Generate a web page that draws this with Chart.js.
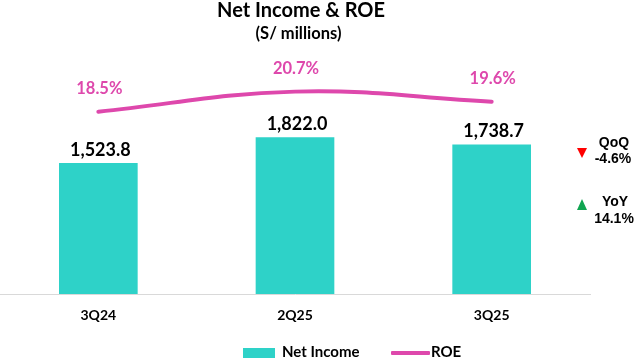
<!DOCTYPE html>
<html>
<head>
<meta charset="utf-8">
<script src="https://cdn.jsdelivr.net/npm/chart.js@4.4.1/dist/chart.umd.min.js"></script>
<style>
  html, body { margin: 0; padding: 0; background: #fff; }
  #wrap { position: relative; width: 635px; height: 358px; overflow: hidden; font-family: Lato, "Noto Sans", sans-serif; }
  #wrap canvas { position: absolute; left: 0; top: 0; }
  .t { position: absolute; white-space: nowrap; font-weight: bold; color: #000; }
  .ann { font-family: "Liberation Sans", Arial, sans-serif; font-size: 14px; line-height: 16px; text-align: center; width: 50px; }
  .tri-down { position: absolute; width: 0; height: 0; border-left: 5.5px solid transparent; border-right: 5.5px solid transparent; border-top: 10px solid #FF0000; }
  .tri-up { position: absolute; width: 0; height: 0; border-left: 5.5px solid transparent; border-right: 5.5px solid transparent; border-bottom: 11px solid #11A551; }
</style>
</head>
<body>
<div id="wrap">
  <canvas id="c" width="635" height="358"></canvas>
  <div class="t" id="title" style="left:0;width:602px;text-align:center;top:-3px;font-size:20px;line-height:24px;"></div>
  <div class="t" id="subtitle" style="left:0;width:597px;text-align:center;top:23px;font-size:16.5px;line-height:20px;"></div>

  <div class="tri-down" style="left:577px;top:148px;"></div>
  <div class="t ann" id="qoqLabel" style="left:589px;top:134px;"></div>
  <div class="t ann" id="qoqVal" style="left:588px;top:150px;"></div>

  <div class="tri-up" style="left:577px;top:199px;"></div>
  <div class="t ann" id="yoyLabel" style="left:590px;top:193px;"></div>
  <div class="t ann" id="yoyVal" style="left:589px;top:210px;"></div>

  <div style="position:absolute;left:243px;top:348px;width:32px;height:10px;background:#2ED2C8;"></div>
  <div class="t" id="leg1" style="left:282px;top:342px;font-size:15px;line-height:18px;"></div>
  <div style="position:absolute;left:391px;top:351px;width:39px;height:3.5px;background:#DE48AC;border-radius:1px;"></div>
  <div class="t" id="leg2" style="left:431px;top:342px;font-size:15px;line-height:18px;"></div>
</div>
<script>
// ---- data ----
const categories = ["3Q24", "2Q25", "3Q25"];
const netIncome = [1523.8, 1822.0, 1738.7];
const roe = [18.5, 20.7, 19.6];
const seriesNames = ["Net Income", "ROE"];
const titleText = "Net Income & ROE";
const subtitleText = "(S/ millions)";
const changeLabels = ["QoQ", "YoY"];
const changeValues = ["-4.6%", "14.1%"];

const barColor = "#2ED2C8";
const lineColor = "#DE48AC";

document.getElementById("title").textContent = titleText;
document.getElementById("subtitle").textContent = subtitleText;
document.getElementById("qoqLabel").textContent = changeLabels[0];
document.getElementById("qoqVal").textContent = changeValues[0];
document.getElementById("yoyLabel").textContent = changeLabels[1];
document.getElementById("yoyVal").textContent = changeValues[1];
document.getElementById("leg1").textContent = seriesNames[0];
document.getElementById("leg2").textContent = seriesNames[1];

const fmt = v => v.toLocaleString("en-US", { minimumFractionDigits: 1, maximumFractionDigits: 1 });

const labelPlugin = {
  id: "valueLabels",
  afterDatasetsDraw(chart) {
    const ctx = chart.ctx;
    ctx.save();
    ctx.textAlign = "center";
    ctx.textBaseline = "middle";
    const barMeta = chart.getDatasetMeta(0);
    ctx.fillStyle = "#000";
    ctx.font = "bold 18px Lato, 'Noto Sans', sans-serif";
    barMeta.data.forEach((bar, i) => {
      ctx.fillText(fmt(netIncome[i]), bar.x + 2, bar.y - 13);
    });
    const lineMeta = chart.getDatasetMeta(1);
    ctx.fillStyle = lineColor;
    ctx.font = "bold 16.5px Lato, 'Noto Sans', sans-serif";
    lineMeta.data.forEach((pt, i) => {
      ctx.fillText(roe[i].toFixed(1) + "%", pt.x + 1, pt.y - 23);
    });
    ctx.restore();
  }
};

new Chart(document.getElementById("c"), {
  type: "bar",
  data: {
    labels: categories,
    datasets: [
      {
        type: "bar",
        label: seriesNames[0],
        data: netIncome,
        backgroundColor: barColor,
        borderWidth: 0,
        grouped: false,
        categoryPercentage: 1.0,
        barPercentage: 0.4,
        yAxisID: "y",
        order: 2
      },
      {
        type: "line",
        label: seriesNames[1],
        data: roe,
        borderColor: lineColor,
        backgroundColor: lineColor,
        borderWidth: 4,
        borderCapStyle: "round",
        pointRadius: 0,
        tension: 0.4,
        fill: false,
        yAxisID: "y2",
        order: 1
      }
    ]
  },
  options: {
    responsive: false,
    animation: false,
    devicePixelRatio: 1,
    layout: { padding: { left: 0, right: 45, top: 36, bottom: 0 } },
    plugins: {
      legend: { display: false },
      title: { display: false },
      tooltip: { enabled: false }
    },
    scales: {
      x: {
        type: "category",
        offset: true,
        grid: { display: false, drawTicks: false },
        border: { display: true, color: "#D9D9D9", width: 1 },
        ticks: {
          color: "#000",
          font: { family: "Lato, 'Noto Sans', sans-serif", size: 14, weight: "bold" },
          padding: 13
        },
        afterFit(scale) { scale.height = 64; }
      },
      y: {
        display: false,
        bounds: "data",
        min: 0,
        max: 3000
      },
      y2: {
        type: "linear",
        position: "right",
        display: false,
        bounds: "data",
        min: -1.42,
        max: 26.78
      }
    }
  },
  plugins: [labelPlugin]
});
</script>
</body>
</html>
